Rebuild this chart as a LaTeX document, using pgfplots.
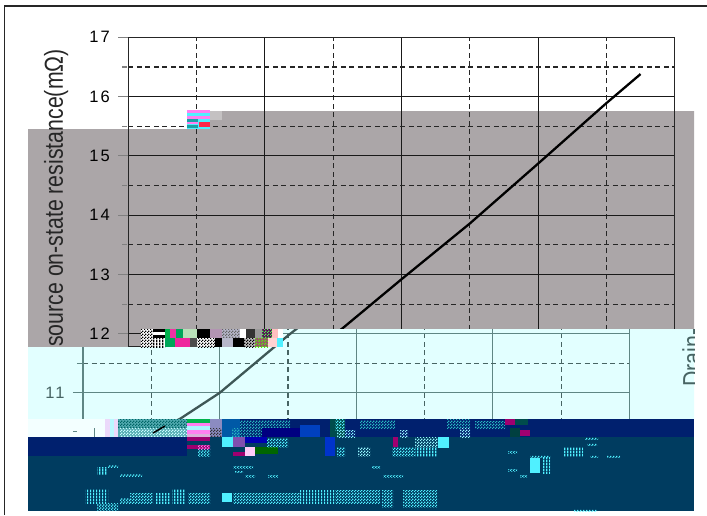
\documentclass[border=0pt]{standalone}
\usepackage{fontspec}
\setmainfont{Liberation Sans}
\newfontfamily\tickf[LetterSpace=12]{Liberation Sans}
\usepackage{pgfplots}
\pgfplotsset{compat=1.18}
\usetikzlibrary{patterns}
\pgfdeclarepatternformonly{vbars}{\pgfqpoint{0pt}{0pt}}{\pgfqpoint{3pt}{3pt}}{\pgfqpoint{3pt}{3pt}}{\pgfpathrectangle{\pgfqpoint{0pt}{0pt}}{\pgfqpoint{1.6pt}{3pt}}\pgfusepath{fill}}
\pgfdeclarepatternformonly{checks}{\pgfqpoint{0pt}{0pt}}{\pgfqpoint{3pt}{3pt}}{\pgfqpoint{3pt}{3pt}}{\pgfpathrectangle{\pgfqpoint{0pt}{0pt}}{\pgfqpoint{1.5pt}{1.5pt}}\pgfpathrectangle{\pgfqpoint{1.5pt}{1.5pt}}{\pgfqpoint{1.5pt}{1.5pt}}\pgfusepath{fill}}
\definecolor{greyb}{HTML}{ABA6A8}
\definecolor{panel}{HTML}{E2FFFF}
\definecolor{pline}{HTML}{5F8684}
\definecolor{navy}{HTML}{00206E}
\definecolor{teal2}{HTML}{003C60}
\definecolor{cy}{HTML}{50F0FF}
\definecolor{pk}{HTML}{FF80F0}
\definecolor{mg}{HTML}{A00070}
\newcommand{\blk}[5]{\addplot[fill=#5,draw=none,forget plot] coordinates {(#1,#2)(#3,#2)(#3,#4)(#1,#4)} --cycle;}
\newcommand{\vb}[5]{\addplot[pattern=vbars,pattern color=#5,draw=none,forget plot] coordinates {(#1,#2)(#3,#2)(#3,#4)(#1,#4)} --cycle;}
\newcommand{\ck}[5]{\addplot[pattern=checks,pattern color=#5,draw=none,forget plot] coordinates {(#1,#2)(#3,#2)(#3,#4)(#1,#4)} --cycle;}
\pgfplotsset{
  pixel/.style={hide axis,scale only axis,width=707pt,height=515pt,at={(0pt,0pt)},anchor=south west,
    xmin=0,xmax=707,ymin=0,ymax=515,y dir=reverse},
  chartgrid/.style={scale only axis,anchor=south west,xmin=-50,xmax=150,
    xtick={-50,0,50,100,150},minor xtick={-25,25,75,125},xticklabels={},
    ytick pos=left,tick align=outside,major tick length=10pt,minor tick length=6pt,
    grid=both,xtick style={draw=none},
    yticklabel style={font=\tickf\fontsize{16.5}{17}\selectfont,/pgf/number format/assume math mode=true,xshift=-5pt},
    major grid style={solid,line width=1.1pt},
    minor grid style={line width=1.2pt,dash pattern=on 5pt off 3.5pt},
    minor tick style={line width=1.1pt,dash pattern=on 5pt off 1pt},
    major tick style={line width=1.1pt}},
}
\pgfplotstableread{
T R
-25 10.32
-14.5 10.56
0 11.0
25 11.97
28.6 12.10
50 12.92
75 13.86
100 14.87
125 15.89
137.5 16.38
}\curve
\newcommand{\ylab}{\scalebox{1}[1.22]{source on-state resistance(mΩ)}}
\begin{document}
\begin{tikzpicture}
\useasboundingbox (0pt,0pt) rectangle (707pt,515pt);
% backdrop
\begin{axis}[pixel]
\addplot[fill=greyb,draw=none,forget plot] coordinates {(28,129)(195,129)(195,111)(694,111)(694,329)(283,329)(283,347)(28,347)} --cycle;
\addplot[draw=black!85,line width=1.6pt,forget plot] coordinates {(4.5,515)(4.5,6)(707,6)};
\end{axis}
% main chart
\begin{scope}
\clip (0pt,515pt)--(707pt,515pt)--(707pt,186pt)--(283pt,186pt)--(283pt,168pt)--(0pt,168pt)--cycle;
\begin{axis}[chartgrid,at={(128.3pt,168pt)},width=546.4pt,height=309.7pt,ymin=11.778,ymax=17,
  ytick={12,13,14,15,16,17},minor ytick={12.5,13.5,14.5,15.5,16.5},
  axis line style={line width=1.1pt,black!85},
  major grid style={black!90},minor grid style={black!85}]
\addplot[black,line width=2.3pt] table[x=T,y=R] {\curve};
\end{axis}
\end{scope}
\node[rotate=90,anchor=base west,inner sep=0pt,text=black!85,font=\fontsize{21.3}{22}\selectfont] at (63pt,168pt) {\ylab};
% shifted lower panel
\begin{scope}
\clip (28pt,168pt)--(141pt,168pt)--(141pt,186pt)--(694pt,186pt)--(694pt,96pt)--(28pt,96pt)--cycle;
\begin{axis}[pixel]
\addplot[fill=panel,draw=none,forget plot] coordinates {(0,0)(707,0)(707,515)(0,515)} --cycle;
\end{axis}
\begin{axis}[chartgrid,at={(83pt,92pt)},width=546.4pt,height=98pt,ymin=10.49,ymax=12.15,
  ytick={11,12},minor ytick={10.5,11.5},
  axis line style={line width=1.1pt,pline},
  major tick style={line width=1.1pt,pline},minor tick style={line width=1.1pt,pline,dash pattern=on 5pt off 1pt},
  yticklabel style={text=pline!75!black},
  major grid style={pline},minor grid style={pline!75!black}]
\addplot[pline!65!black,line width=2.3pt] table[x=T,y=R] {\curve};
\end{axis}
\node[rotate=90,anchor=base west,inner sep=0pt,text=pline!75!black,font=\fontsize{21.3}{22}\selectfont] at (701pt,128pt) {\scalebox{1}[1.22]{Drain-}};
\end{scope}
% corrupted blocks
\begin{axis}[pixel]
% upper speck
\blk{187}{110}{210}{129}{cy}
\blk{187}{110}{210}{113}{pk}\blk{187}{116}{210}{119}{pk}\blk{187}{122}{198}{124}{pk}
\blk{187}{119}{198}{122}{teal!70!cy}\blk{187}{125}{198}{128}{teal!70!cy}\blk{199}{122}{210}{127}{red!70!pk}
\blk{210}{111}{222}{120}{greyb!70!white}
% band A
\blk{141}{329}{283}{347}{white}
\ck{141}{329}{153}{347}{black}
\blk{153}{329}{165}{332}{black}\blk{153}{335}{165}{338}{black}\vb{153}{338}{165}{347}{black}
\blk{165}{329}{170}{338}{teal!60!green}\blk{170}{329}{176}{338}{magenta!80!white}\blk{176}{329}{183}{338}{teal!70!green}\blk{183}{329}{197}{338}{gray!60!green!40}
\blk{165}{338}{175}{347}{teal!70!green}\blk{175}{338}{190}{347}{magenta!85!white}\blk{190}{338}{197}{347}{black!70}
\blk{197}{329}{210}{338}{black}\ck{197}{338}{215}{347}{black}\blk{215}{338}{222}{347}{black}
\blk{210}{329}{222}{338}{violet!40!gray!60}\blk{222}{329}{240}{338}{blue!15!gray!50}\ck{222}{329}{240}{338}{black!60}
\blk{222}{338}{233}{347}{blue!15!gray!50}\blk{233}{338}{244}{347}{black}
\blk{240}{329}{246}{338}{white}\blk{246}{329}{255}{338}{black!80}\blk{255}{329}{262}{338}{gray!80}
\blk{244}{338}{255}{347}{gray!50}\ck{244}{338}{255}{347}{black}
\blk{262}{329}{272}{338}{violet!70!black}\ck{262}{329}{272}{338}{green!70}
\blk{255}{338}{268}{347}{magenta!60!black}\ck{255}{338}{268}{347}{green!70!yellow}
\blk{272}{329}{278}{338}{pink}\blk{268}{338}{277}{347}{pink!70}\blk{277}{338}{283}{347}{cy}
% band B (row under the panel)
\blk{28}{419}{120}{437}{panel!40!white}
\blk{105}{419}{118}{437}{pk!30!panel}\blk{110}{419}{114}{437}{cy!40!white}
\addplot[pline,line width=1pt,forget plot] coordinates {(94,428)(94,437)};
\addplot[pline,line width=1pt,forget plot] coordinates {(73,431)(77,431)};
\blk{118}{419}{187}{437}{teal!35!cy!60!gray}
\ck{118}{419}{187}{428}{teal!80!black}
\ck{120}{428}{187}{437}{white!70!cy}
\addplot[black,line width=1.5pt,forget plot] coordinates {(153,433)(165,426)};
\blk{187}{419}{210}{437}{pk}
\blk{187}{419}{210}{423}{teal!60!green}\blk{187}{426}{210}{430}{cy!50!white}\blk{187}{434}{210}{437}{violet!30}
\blk{210}{419}{222}{437}{blue!30!gray!70}\ck{210}{428}{222}{437}{black!80}
\blk{222}{419}{240}{437}{teal!70!blue}
% navy and teal ground
\blk{240}{419}{694}{437}{navy}
\blk{28}{437}{694}{456}{navy}
\blk{187}{437}{694}{456}{teal2}
\blk{28}{456}{694}{511}{teal2}
% band B noise
\ck{240}{420}{290}{428}{teal!50!cy}\ck{232}{428}{262}{437}{teal!50!cy}
\blk{262}{428}{300}{437}{blue!50!black}
\blk{300}{425}{320}{437}{blue!50!teal}
\blk{330}{419}{345}{437}{teal!60!black}\ck{335}{419}{345}{430}{cy}\ck{337}{430}{355}{437}{cy!70}
\ck{360}{420}{395}{428}{teal!50!cy}\ck{400}{430}{408}{437}{cy!60}
\ck{447}{419}{470}{428}{teal!50!cy}\ck{460}{428}{470}{437}{cy!60}\ck{475}{421}{505}{428}{teal!50!cy}
\blk{505}{419}{515}{425}{mg}\blk{515}{419}{528}{425}{teal!60!black}\blk{510}{428}{520}{437}{teal!50!black}\blk{520}{430}{530}{436}{mg}
% band C
\blk{187}{437}{210}{441}{mg}\blk{187}{445}{210}{449}{mg}\ck{198}{449}{210}{456}{cy}\ck{198}{445}{210}{449}{pk}
\blk{222}{437}{233}{447}{cy}
\blk{233}{437}{245}{447}{pk!50!navy}\blk{233}{452}{245}{456}{mg}
\blk{245}{447}{255}{456}{pk!40!white}
\blk{255}{447}{278}{454}{green!40!black}\blk{245}{437}{267}{443}{blue!70!black}
\ck{267}{438}{288}{447}{cy}
\blk{325}{437}{335}{456}{blue!60!teal}\ck{337}{447}{345}{456}{cy}\ck{358}{447}{370}{456}{white!40!cy}
\blk{393}{437}{398}{447}{mg}\ck{392}{447}{415}{456}{cy}
\ck{415}{437}{438}{447}{white!40!cy}\blk{438}{437}{449}{448}{cy}\vb{415}{447}{437}{456}{cy}
% cyan fragments
\vb{97}{467}{107}{474}{cy}\ck{108}{465}{118}{467}{cy}\ck{120}{474}{142}{476}{cy}
\ck{233}{466}{253}{468}{cy}\ck{235}{471}{243}{472}{cy}\ck{245}{475}{255}{477}{cy}\ck{268}{475}{278}{477}{cy}
\vb{85}{489}{108}{503}{cy}\ck{97}{503}{118}{510}{cy}\ck{120}{498}{130}{503}{cy}\ck{130}{493}{153}{503}{cy}
\vb{155}{493}{170}{503}{cy}\vb{172}{489}{185}{503}{cy}\ck{188}{493}{210}{503}{cy}
\blk{222}{493}{232}{502}{cy}\ck{233}{493}{300}{503}{cy}\vb{300}{490}{335}{503}{cy}\ck{335}{490}{380}{503}{cy}
\ck{382}{490}{393}{507}{cy}\ck{403}{490}{437}{507}{cy}
\ck{372}{466}{380}{468}{cy}\ck{383}{475}{403}{477}{cy}
\ck{508}{451}{517}{453}{cy}\ck{508}{469}{517}{471}{cy}\ck{520}{475}{527}{477}{cy}
\blk{530}{458}{540}{473}{cy}\vb{542}{457}{550}{473}{cy}\ck{530}{455}{550}{457}{cy}
\vb{563}{447}{583}{456}{cy}\ck{585}{437}{598}{439}{cy}\ck{587}{443}{597}{445}{cy}\ck{590}{455}{598}{457}{cy}\ck{607}{455}{620}{457}{cy}\ck{574}{509}{597}{511}{cy}
\end{axis}
\end{tikzpicture}
\end{document}
